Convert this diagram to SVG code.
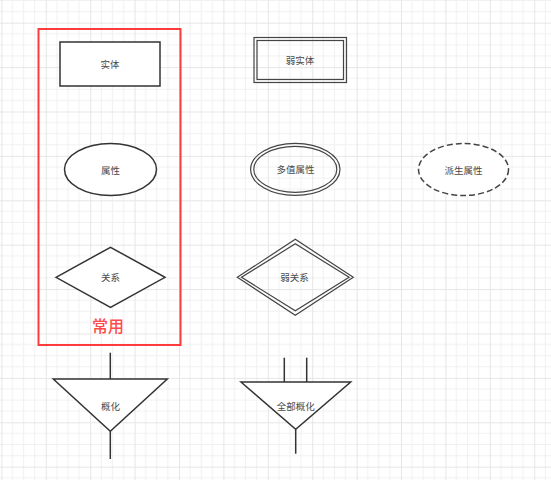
<svg xmlns="http://www.w3.org/2000/svg" width="551" height="480" viewBox="0 0 551 480">
<defs>
<pattern id="grid" patternUnits="userSpaceOnUse" x="1.4" y="22.7" width="44.4" height="44.4">
<rect width="44.4" height="44.4" fill="#ffffff"/>
<path d="M11.1 0V44.4M22.2 0V44.4M33.3 0V44.4M0 11.1H44.4M0 22.2H44.4M0 33.3H44.4" stroke="#f1f1f1" stroke-width="1" fill="none"/>
<path d="M0.5 0V44.4M0 0.5H44.4" stroke="#e6e6e6" stroke-width="1" fill="none"/>
</pattern>
<style>
.s{fill:#ffffff;stroke:#333333;stroke-width:1.5}
.d{fill:none;stroke:#444444;stroke-width:1.2}
.t{font-family:"Noto Sans CJK SC","Noto Sans",sans-serif;font-size:9.5px;fill:#4a4a4a;text-anchor:middle;dominant-baseline:central}
.l{stroke:#333333;stroke-width:1.5;fill:none}
</style>
</defs>
<rect width="551" height="480" fill="url(#grid)"/>
<g id="common-box">
<rect x="38.5" y="29" width="142" height="316" fill="none" stroke="#ff3b3b" stroke-width="2"/>
<text x="108" y="324.5" style="font-family:'Noto Sans CJK SC','Noto Sans',sans-serif;font-size:16px;font-weight:500;fill:#ff4a4a;text-anchor:middle;dominant-baseline:central">常用</text>
</g>
<g id="entity">
<rect class="s" x="60" y="42" width="100" height="44"/>
<text class="t" x="110" y="64">实体</text>
</g>
<g id="weak-entity">
<rect class="d" x="254" y="37.5" width="92.5" height="45" fill="#ffffff"/>
<rect class="d" x="257" y="40.5" width="86.5" height="39"/>
<text class="t" x="300" y="60">弱实体</text>
</g>
<g id="attribute">
<ellipse class="s" cx="110.5" cy="169.5" rx="46" ry="26"/>
<text class="t" x="110.5" y="169.5">属性</text>
</g>
<g id="multivalued-attribute">
<ellipse class="d" cx="295.3" cy="169.3" rx="44.7" ry="26" fill="#ffffff"/>
<ellipse class="d" cx="295.3" cy="169.3" rx="41.5" ry="23"/>
<text class="t" x="295.5" y="169.3">多值属性</text>
</g>
<g id="derived-attribute">
<ellipse cx="463.5" cy="169.5" rx="45" ry="26" fill="#ffffff" stroke="#444444" stroke-width="1.5" stroke-dasharray="6,3"/>
<text class="t" x="463.5" y="169.5">派生属性</text>
</g>
<g id="relationship">
<polygon class="s" points="56,277.3 110.5,247.3 165,277.3 110.5,307.3"/>
<text class="t" x="110.5" y="277.3">关系</text>
</g>
<g id="weak-relationship">
<polygon class="d" points="237.3,277.3 295.3,239.3 353.3,277.3 295.3,315.3" fill="#ffffff"/>
<polygon class="d" points="241.5,277.3 295.3,243.8 349.1,277.3 295.3,310.8"/>
<text class="t" x="294.5" y="277.3">弱关系</text>
</g>
<g id="generalization">
<polygon class="s" points="53.3,379 167.3,379 110.3,431.3"/>
<text class="t" x="110.5" y="406">概化</text>
</g>
<g id="total-generalization">
<polygon class="s" points="241,382 350.7,382 295.7,429.3"/>
<text class="t" x="295.8" y="406">全部概化</text>
</g>
<g id="connectors">
<line class="l" x1="110.3" y1="352.7" x2="110.3" y2="379"/>
<line class="l" x1="110.3" y1="431.3" x2="110.3" y2="459"/>
<line class="l" x1="284.3" y1="357.7" x2="284.3" y2="382"/>
<line class="l" x1="306.7" y1="357.7" x2="306.7" y2="382"/>
<line class="l" x1="295.7" y1="429.3" x2="295.7" y2="453.7"/>
</g>
</svg>
